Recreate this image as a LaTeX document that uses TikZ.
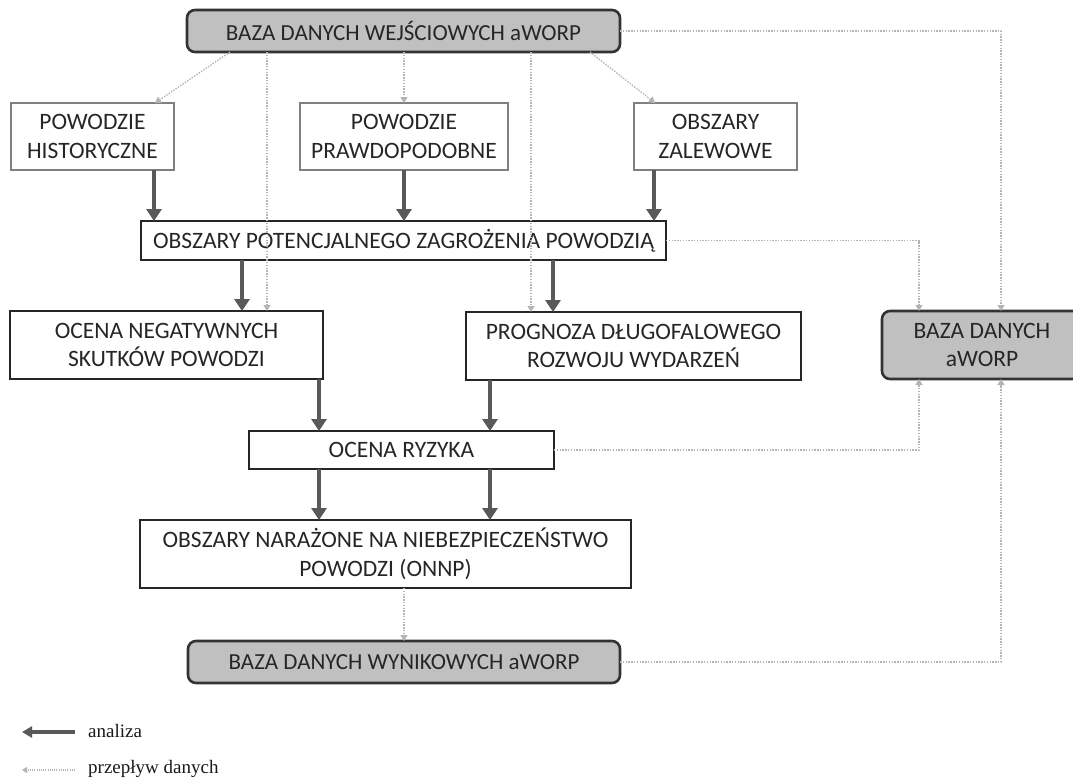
\documentclass[tikz,border=0pt]{standalone}
\usepackage{fontspec}
\setmainfont{Carlito}
\newfontfamily\legfont{Liberation Serif}
\usetikzlibrary{arrows.meta}
\definecolor{anacol}{HTML}{595959}
\definecolor{flowcol}{HTML}{B4B4B4}
\definecolor{dbfill}{HTML}{C0C0C0}
\tikzset{
  txt/.style={font=\fontsize{23.5}{28.5}\selectfont, align=center, inner sep=0pt, outer sep=0pt, text=black!85},
  srcbox/.style={txt, draw=black!50, line width=1.6pt, fill=white},
  procbox/.style={txt, draw=black!85, line width=1.8pt, fill=white},
  dbbox/.style={txt, draw=black!80, line width=2.6pt, fill=dbfill, rounded corners=8pt},
  dbwide/.style={dbbox, font=\fontsize{23}{27}\selectfont},
  ana/.style={draw=anacol, line width=4.5pt, -{Triangle[length=12pt,width=15pt]}},
  flow/.style={draw=flowcol, line width=1.4pt, dash pattern=on 1.4pt off 1.4pt, -{Triangle[length=6pt,width=7pt]}},
  leg/.style={font=\legfont\fontsize{19}{22}\selectfont, anchor=west, inner sep=0pt, text=black!90}
}
\begin{document}
\begin{tikzpicture}[x=1pt,y=-1pt]
\useasboundingbox (0,0) rectangle (1073,780);
% nodes
\node[dbwide, minimum width=433pt, minimum height=42pt] (top) at (403.5,31) {BAZA DANYCH WEJŚCIOWYCH aWORP};
\node[srcbox, minimum width=163pt, minimum height=67pt] (hist) at (92.5,136.5) {POWODZIE\\HISTORYCZNE};
\node[srcbox, minimum width=208pt, minimum height=67pt] (praw) at (404,136.5) {POWODZIE\\PRAWDOPODOBNE};
\node[srcbox, minimum width=163pt, minimum height=67pt] (zal) at (715.5,136.5) {OBSZARY\\ZALEWOWE};
\node[procbox, minimum width=525pt, minimum height=39pt] (pot) at (403.5,240.5) {OBSZARY POTENCJALNEGO ZAGROŻENIA POWODZIĄ};
\node[procbox, minimum width=313pt, minimum height=68pt] (neg) at (166.5,345) {OCENA NEGATYWNYCH\\SKUTKÓW POWODZI};
\node[procbox, minimum width=335pt, minimum height=68pt] (prog) at (633.5,346) {PROGNOZA DŁUGOFALOWEGO\\ROZWOJU WYDARZEŃ};
\node[dbbox, minimum width=200pt, minimum height=68pt] (baza) at (982,345) {BAZA DANYCH\\aWORP};
\node[procbox, minimum width=305pt, minimum height=38pt] (ryz) at (401.5,450) {OCENA RYZYKA};
\node[procbox, minimum width=491pt, minimum height=68pt] (onnp) at (385.5,554) {OBSZARY NARAŻONE NA NIEBEZPIECZEŃSTWO\\POWODZI (ONNP)};
\node[dbwide, minimum width=432pt, minimum height=42pt] (wyn) at (404,662) {BAZA DANYCH WYNIKOWYCH aWORP};
% data flow
\draw[flow] (230,0 |- top.south) -- (155,0 |- hist.north);
\draw[flow] (404,0 |- top.south) -- (404,0 |- praw.north);
\draw[flow] (590,0 |- top.south) -- (655,0 |- zal.north);
\draw[flow] (267,0 |- top.south) -- (267,0 |- neg.north);
\draw[flow] (531,0 |- top.south) -- (531,0 |- prog.north);
\draw[flow] (top.east) -| (1001,0 |- baza.north);
\draw[flow] (pot.east) -| (919,0 |- baza.north);
\draw[flow] (ryz.east) -| (919,0 |- baza.south);
\draw[flow] (wyn.east) -| (1001,0 |- baza.south);
\draw[flow] (404,0 |- onnp.south) -- (404,0 |- wyn.north);
% analysis
\draw[ana] (154,0 |- hist.south) -- (154,0 |- pot.north);
\draw[ana] (404,0 |- praw.south) -- (404,0 |- pot.north);
\draw[ana] (654,0 |- zal.south) -- (654,0 |- pot.north);
\draw[ana] (242,0 |- pot.south) -- (242,0 |- neg.north);
\draw[ana] (553,0 |- pot.south) -- (553,0 |- prog.north);
\draw[ana] (319,0 |- neg.south) -- (319,0 |- ryz.north);
\draw[ana] (490,0 |- prog.south) -- (490,0 |- ryz.north);
\draw[ana] (319,0 |- ryz.south) -- (319,0 |- onnp.north);
\draw[ana] (490,0 |- ryz.south) -- (490,0 |- onnp.north);
% legend
\coordinate (la1) at (75,732);
\coordinate (la2) at (22,732);
\coordinate (lb1) at (75,770);
\coordinate (lb2) at (22,770);
\draw[ana, line width=3.5pt, -{Triangle[length=10pt,width=11pt]}] (la1) -- (la2);
\draw[flow, line width=1.1pt, dash pattern=on 1.1pt off 1.1pt, -{Triangle[length=5pt,width=6pt]}] (lb1) -- (lb2);
\node[leg] (lga) at (88,731) {analiza};
\node[leg] (lgb) at (88,769) {przepływ danych};
\end{tikzpicture}
\end{document}
